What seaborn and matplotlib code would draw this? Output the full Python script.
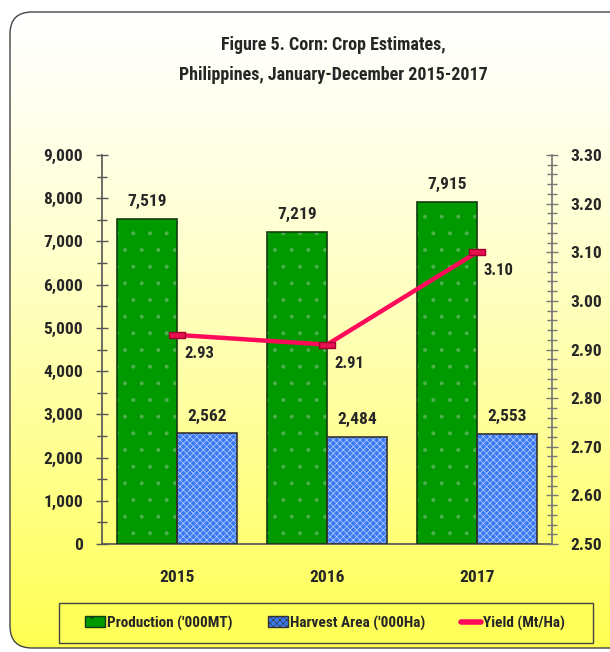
import matplotlib
matplotlib.use("Agg")
import matplotlib.pyplot as plt
import matplotlib.ticker as mticker
from matplotlib import font_manager
from matplotlib.patches import Patch, Rectangle, FancyBboxPatch
from matplotlib.lines import Line2D
import numpy as np
import pandas as pd
import seaborn as sns

years = ["2015", "2016", "2017"]
production = [7519, 7219, 7915]
harvest_area = [2562, 2484, 2553]
yield_mt_ha = [2.93, 2.91, 3.10]
series_names = ["Production ('000MT)", "Harvest Area ('000Ha)", "Yield (Mt/Ha)"]

sns.set_theme(style="white")

# prefer a condensed face (the original uses Arial Narrow); otherwise shrink Liberation Sans
installed = {f.name for f in font_manager.fontManager.ttflist}
narrow = [n for n in ["Liberation Sans Narrow", "Roboto Condensed", "DejaVu Sans Condensed",
                      "Open Sans Condensed"] if n in installed]
if narrow:
    plt.rcParams["font.family"] = [narrow[0], "DejaVu Sans"]
    k = 1.0
else:
    plt.rcParams["font.family"] = ["Liberation Sans", "DejaVu Sans"]
    k = 0.8
plt.rcParams["font.weight"] = "bold"
plt.rcParams["hatch.linewidth"] = 0.45

green = "#009900"
blue = "#3a7af2"
red = "#ff0a5a"

bars_df = pd.DataFrame({
    "Year": years * 2,
    "Value": production + harvest_area,
    "Series": [series_names[0]] * 3 + [series_names[1]] * 3,
})
yield_df = pd.DataFrame({"Year": years, "Yield": yield_mt_ha})

fig = plt.figure(figsize=(6.1, 6.52), dpi=100)

# background: rounded frame with white -> yellow gradient, plus the legend box
bg = fig.add_axes([0, 0, 1, 1], zorder=-10)
bg.set_xlim(0, 610)
bg.set_ylim(652, 0)
bg.axis("off")
grad = np.linspace(0, 1, 256) ** 1.25
rgb = np.ones((256, 1, 3))
rgb[:, 0, 2] = 1.0 - 0.68 * grad
frame = FancyBboxPatch((10, 12), 640, 636, boxstyle="round,pad=0,rounding_size=22",
                       facecolor="none", edgecolor="#444444", lw=1.0)
img = bg.imshow(rgb, extent=(10, 650, 648, 12), aspect="auto")
bg.add_patch(frame)
img.set_clip_path(frame)
bg.add_patch(Rectangle((59, 603), 534, 40, facecolor="#ffff5a", edgecolor="#444444", lw=1.0))

ax = fig.add_axes([102 / 610, 1 - 544 / 652, 450 / 610, 389 / 652])
ax.patch.set_alpha(0)

sns.barplot(data=bars_df, x="Year", y="Value", hue="Series",
            palette=[green, blue], width=0.8, saturation=1,
            edgecolor="#222222", linewidth=1.0, legend=False, ax=ax)

hatch_cols = ["#4cb04c", "#c4d9ff"]
hatches = [".", "xxxxx"]
edge_cols = ["#123d12", "#333333"]
for i, cont in enumerate(ax.containers):
    for p in cont:
        p.set_edgecolor(hatch_cols[i])
        p.set_hatch(hatches[i])
        p.set_linewidth(0)
        ax.add_patch(Rectangle(p.get_xy(), p.get_width(), p.get_height(),
                               fill=False, edgecolor=edge_cols[i], lw=1.2, zorder=3))
    ax.bar_label(cont, labels=[f"{v:,.0f}" for v in cont.datavalues],
                 padding=7, fontsize=12.5 * k, fontweight="bold")

ax.set_ylim(0, 9000)
ax.set_xlim(-0.5, 2.5)
ax.yaxis.set_major_locator(mticker.MultipleLocator(1000))
ax.yaxis.set_minor_locator(mticker.MultipleLocator(500))
ax.yaxis.set_major_formatter(mticker.FuncFormatter(lambda v, p: f"{v:,.0f}"))
ax.set_xticks([0, 1, 2])
ax.set_xticks([0.5, 1.5], minor=True)
ax.tick_params(axis="y", which="major", direction="inout", length=9, width=1,
               color="#555555", labelsize=12.5 * k, pad=9)
ax.tick_params(axis="y", which="minor", direction="inout", length=7, width=1, color="#555555")
ax.tick_params(axis="x", which="major", length=0, labelsize=12.5 * k, pad=19)
ax.tick_params(axis="x", which="minor", direction="inout", length=16, width=1, color="#555555")
ax.set_xlabel("")
ax.set_ylabel("")
for s in ["top", "right"]:
    ax.spines[s].set_visible(False)
for s in ["left", "bottom"]:
    ax.spines[s].set_color("#555555")
    ax.spines[s].set_linewidth(1.2)

ax2 = ax.twinx()
sns.pointplot(data=yield_df, x="Year", y="Yield", color=red, ax=ax2,
              linewidth=3.2, markersize=0)
line = ax2.lines[0]
rect_marker = [(-2.6, -1), (2.6, -1), (2.6, 1), (-2.6, 1), (-2.6, -1)]
line.set_marker(rect_marker)
line.set_markersize(12)
line.set_markerfacecolor("#e8104e")
line.set_markeredgecolor("#a00030")
line.set_markeredgewidth(1.0)
line.set_zorder(5)
for xi, v in enumerate(yield_mt_ha):
    ax2.annotate(f"{v:.2f}", (xi, v), xytext=(5, -8), textcoords="offset points",
                 ha="left", va="top", fontsize=12 * k, fontweight="bold")
ax2.set_xlim(-0.5, 2.5)
ax2.set_ylim(2.5, 3.3)
ax2.yaxis.set_major_locator(mticker.MultipleLocator(0.1))
ax2.yaxis.set_minor_locator(mticker.MultipleLocator(0.02))
ax2.yaxis.set_major_formatter(mticker.FormatStrFormatter("%.2f"))
ax2.tick_params(axis="y", which="major", direction="inout", length=9, width=1,
                color="#777777", labelsize=12.5 * k, pad=9)
ax2.tick_params(axis="y", which="minor", direction="inout", length=7, width=1, color="#777777")
ax2.set_ylabel("")
ax2.set_xlabel("")
for s in ["top", "left", "bottom"]:
    ax2.spines[s].set_visible(False)
ax2.spines["right"].set_color("#777777")

fig.text(333 / 610, 1 - 45 / 652, "Figure 5. Corn: Crop Estimates,", ha="center", va="center",
         fontsize=13 * k, fontweight="bold")
fig.text(333 / 610, 1 - 75 / 652, "Philippines, January-December 2015-2017", ha="center",
         va="center", fontsize=13 * k, fontweight="bold")

handles = [
    Patch(facecolor=green, edgecolor="#123d12", hatch=".", lw=1),
    Patch(facecolor=blue, edgecolor="#333333", hatch="xxxxx", lw=1),
    Line2D([0], [0], color=red, lw=4),
]
fs_leg = 11 * k
px = fs_leg * 100 / 72
leg = fig.legend(handles=handles, labels=series_names, loc="center",
                 bbox_to_anchor=(325 / 610, 1 - 623 / 652), ncol=3, frameon=False,
                 fontsize=fs_leg, handlelength=20 / px,
                 handleheight=11 / px, handletextpad=2 / px, columnspacing=36 / px,
                 borderpad=0, borderaxespad=0)
for t in leg.get_texts():
    t.set_fontweight("bold")

fig.savefig("out.png", dpi=100)
